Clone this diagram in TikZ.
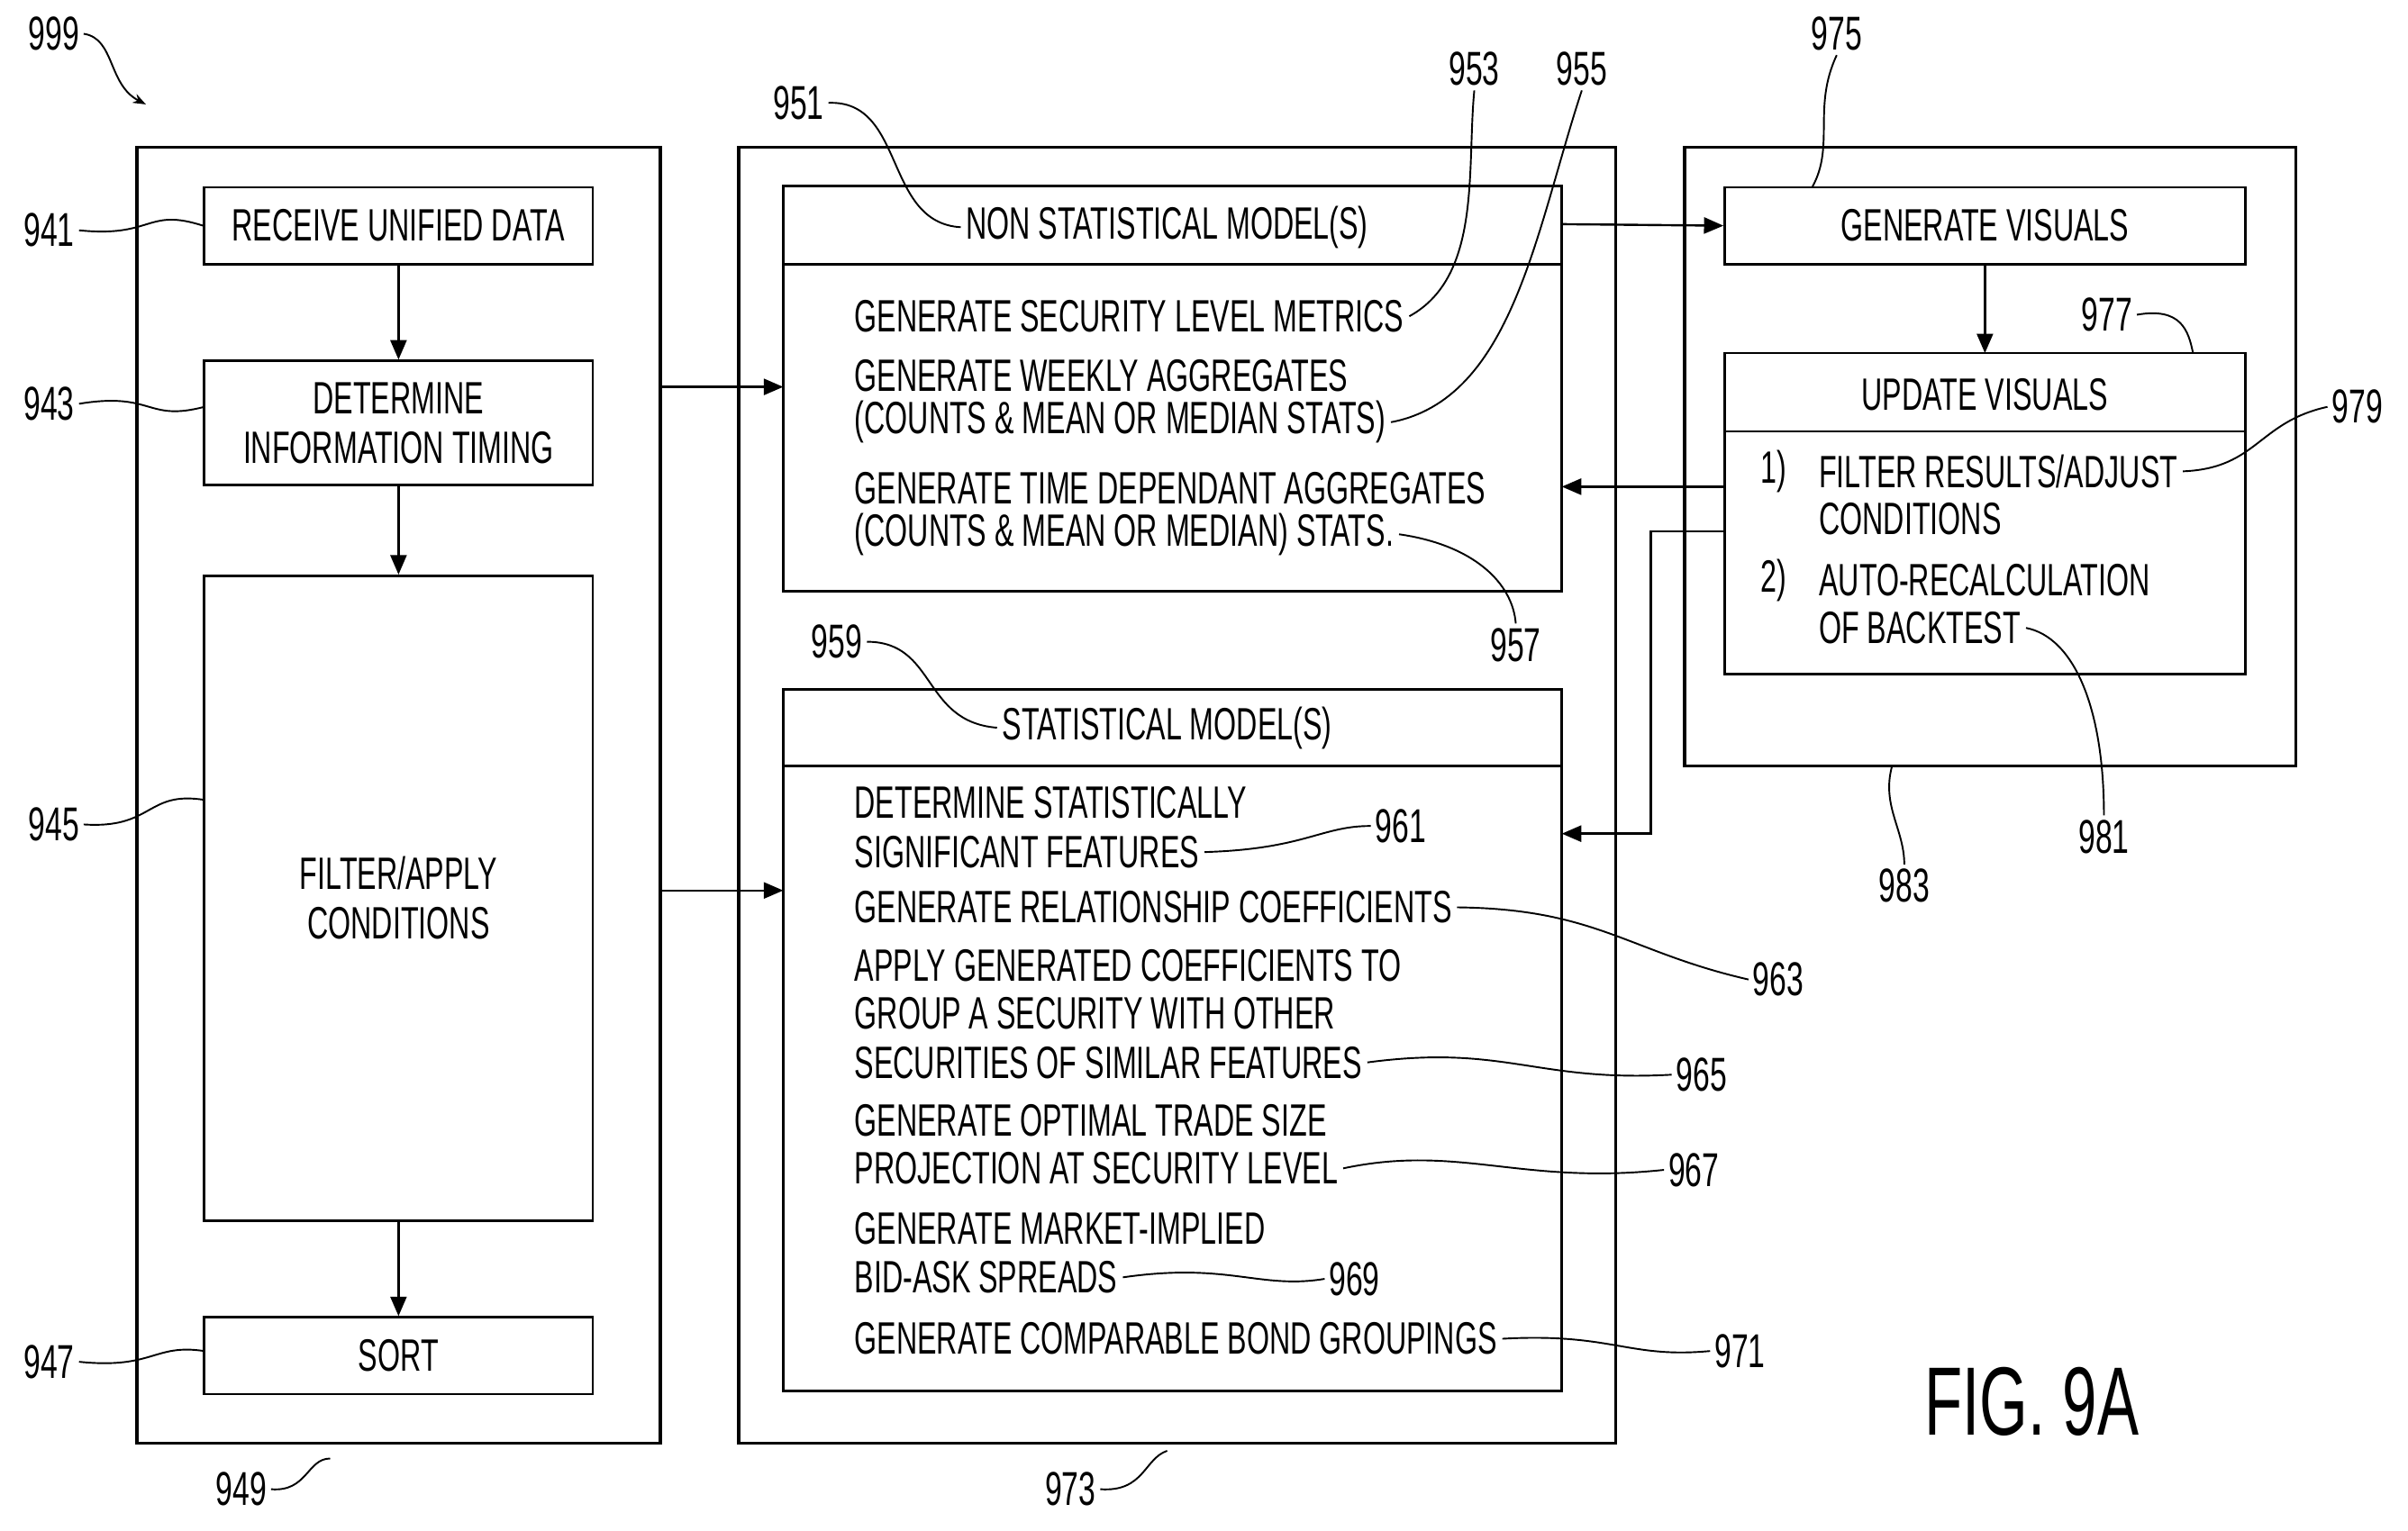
\documentclass[tikz,border=0pt]{standalone}
\usepackage{fontspec}
\setmainfont{Liberation Sans}[FakeStretch=0.64]
\usetikzlibrary{arrows.meta}
\begin{document}
\begin{tikzpicture}[x=0.5mm,y=-0.5mm,
  every node/.style={font=\fontsize{42}{52}\selectfont, inner sep=0pt},
  box/.style={draw, line width=2.2pt},
  frame/.style={draw, line width=3pt},
  arr/.style={line width=2pt,-{Triangle[length=18pt,width=15pt]}},
  lead/.style={line width=1.6pt},
  lab/.style={font=\fontsize{44}{52}\selectfont, inner sep=4pt},
  txt/.style={anchor=west, outer sep=5pt}]
\useasboundingbox (0,0) rectangle (1568,997);
% frames
\draw[frame] (89,96) rectangle (430,940);
\draw[frame] (481,96) rectangle (1052,940);
\draw[frame] (1097,96) rectangle (1495,499);
% left column
\node[box, minimum width=253*0.5mm, minimum height=50*0.5mm] (b941) at (259.5,147) {RECEIVE UNIFIED DATA};
\node[box, minimum width=253*0.5mm, minimum height=81*0.5mm, align=center] (b943) at (259.5,275.5) {DETERMINE\\[-6pt]INFORMATION TIMING};
\node[box, minimum width=253*0.5mm, minimum height=420*0.5mm, align=center] (b945) at (259.5,585) {FILTER/APPLY\\[-6pt]CONDITIONS};
\node[box, minimum width=253*0.5mm, minimum height=50*0.5mm] (b947) at (259.5,883) {SORT};
\draw[arr] (b941) -- (b943);
\draw[arr] (b943) -- (b945);
\draw[arr] (b945) -- (b947);
% middle boxes
\draw[box] (510,121) rectangle (1017,385);
\draw[box] (510,172) -- (1017,172);
\draw[box] (510,449) rectangle (1017,906);
\draw[box] (510,499) -- (1017,499);
\coordinate (m951w) at (510,252); \coordinate (m959w) at (510,580);
\coordinate (m951e) at (1017,146); \coordinate (m951r) at (1017,317); \coordinate (m959r) at (1017,543);
\node[outer sep=5pt] (h951) at (760,148) {NON STATISTICAL MODEL(S)};
\node[outer sep=5pt] (h959) at (760,474) {STATISTICAL MODEL(S)};
\node[txt] (t1) at (553,206) {GENERATE SECURITY LEVEL METRICS};
\node[txt] (t2) at (553,245) {GENERATE WEEKLY AGGREGATES};
\node[txt] (t3) at (553,275) {(COUNTS \& MEAN OR MEDIAN STATS)};
\node[txt] (t4) at (553,318) {GENERATE TIME DEPENDANT AGGREGATES};
\node[txt] (t5) at (553,348) {(COUNTS \& MEAN OR MEDIAN) STATS.};
\node[txt] (s1) at (553,523) {DETERMINE STATISTICALLY};
\node[txt] (s2) at (553,555) {SIGNIFICANT FEATURES};
\node[txt] (s3) at (553,591) {GENERATE RELATIONSHIP COEFFICIENTS};
\node[txt] (s4) at (553,629) {APPLY GENERATED COEFFICIENTS TO};
\node[txt] (s5) at (553,660) {GROUP A SECURITY WITH OTHER};
\node[txt] (s6) at (553,692) {SECURITIES OF SIMILAR FEATURES};
\node[txt] (s7) at (553,730) {GENERATE OPTIMAL TRADE SIZE};
\node[txt] (s8) at (553,761) {PROJECTION AT SECURITY LEVEL};
\node[txt] (s9) at (553,800) {GENERATE MARKET-IMPLIED};
\node[txt] (s10) at (553,832) {BID-ASK SPREADS};
\node[txt] (s11) at (553,872) {GENERATE COMPARABLE BOND GROUPINGS};
% right boxes
\node[box, minimum width=339*0.5mm, minimum height=50*0.5mm] (b975) at (1292.5,147) {GENERATE VISUALS};
\draw[box] (1123,230) rectangle (1462,439);
\draw[box] (1123,281) -- (1462,281);
\coordinate (b977n) at (1292.5,230);
\coordinate (r1) at (1123,317); \coordinate (r2) at (1123,346);
\node (h977) at (1292.5,257) {UPDATE VISUALS};
\node[txt] at (1143,307) {1)};
\node[txt] at (1143,378) {2)};
\node[txt] (u1) at (1181,307) {FILTER RESULTS/ADJUST};
\node[txt] (u2) at (1181,338) {CONDITIONS};
\node[txt] (u3) at (1181,378) {AUTO-RECALCULATION};
\node[txt] (u4) at (1181,409) {OF BACKTEST};
% arrows
\draw[arr] (430,252) -- (m951w);
\draw[arr] (430,580) -- (m959w);
\draw[arr] (m951e) -- (b975.west);
\draw[arr] (b975.south) -- (b977n);
\draw[arr] (r1) -- (m951r);
\draw[arr] (r2) -- (1075,346) -- (1075,543) -- (m959r);
% labels
\node[lab] (l999) at (35,22) {999};
\draw[lead,-{Stealth[length=12pt]}] (l999.east) .. controls (75,25) and (70,55) .. (95,68);
\node[lab] (l941) at (32,150) {941};
\draw[lead] (l941.east) .. controls (100,155) and (95,135) .. (b941.west);
\node[lab] (l943) at (32,263) {943};
\draw[lead] (l943.east) .. controls (100,255) and (95,275) .. (133,265);
\node[lab] (l945) at (35,537) {945};
\draw[lead] (l945.east) .. controls (100,540) and (95,515) .. (133,521);
\node[lab] (l947) at (32,887) {947};
\draw[lead] (l947.east) .. controls (100,892) and (100,875) .. (133,880);
\node[lab] (l949) at (157,970) {949};
\draw[lead] (l949.east) .. controls (200,972) and (200,950) .. (215,950);
\node[lab] (l973) at (697,970) {973};
\draw[lead] (l973.east) .. controls (745,972) and (745,950) .. (760,945);
\node[lab] (l951) at (520,67) {951};
\draw[lead] (l951.east) .. controls (590,65) and (575,145) .. (h951.west);
\node[lab] (l953) at (960,45) {953};
\draw[lead] (l953.south) .. controls (955,110) and (965,180) .. (t1.east);
\node[lab] (l955) at (1030,45) {955};
\draw[lead] (l955.south) .. controls (1000,150) and (985,260) .. (t3.east);
\node[lab] (l957) at (987,420) {957};
\draw[lead] (l957.north) .. controls (985,380) and (960,355) .. (t5.east);
\node[lab] (l959) at (545,418) {959};
\draw[lead] (l959.east) .. controls (610,418) and (600,470) .. (h959.west);
\node[lab] (l961) at (912,538) {961};
\draw[lead] (l961.west) .. controls (860,538) and (850,553) .. (s2.east);
\node[lab] (l963) at (1158,638) {963};
\draw[lead] (l963.west) .. controls (1060,620) and (1040,592) .. (s3.east);
\node[lab] (l965) at (1108,700) {965};
\draw[lead] (l965.west) .. controls (1000,705) and (980,680) .. (s6.east);
\node[lab] (l967) at (1103,762) {967};
\draw[lead] (l967.west) .. controls (990,772) and (950,745) .. (s8.east);
\node[lab] (l969) at (882,833) {969};
\draw[lead] (l969.west) .. controls (820,840) and (800,822) .. (s10.east);
\node[lab] (l971) at (1133,880) {971};
\draw[lead] (l971.west) .. controls (1060,885) and (1050,868) .. (s11.east);
\node[lab] (l975) at (1196,22) {975};
\draw[lead] (l975.south) .. controls (1180,70) and (1195,95) .. (1180,122);
\node[lab] (l977) at (1372,205) {977};
\draw[lead] (l977.east) .. controls (1420,200) and (1425,215) .. (1428,230);
\node[lab] (l979) at (1535,265) {979};
\draw[lead] (l979.west) .. controls (1470,275) and (1470,305) .. (u1.east);
\node[lab] (l981) at (1370,545) {981};
\draw[lead] (l981.north) .. controls (1370,460) and (1350,415) .. (u4.east);
\node[lab] (l983) at (1240,577) {983};
\draw[lead] (l983.north) .. controls (1240,540) and (1225,525) .. (1232,499);
\node[font=\fontsize{90}{100}\selectfont] (fig) at (1323,913) {FIG. 9A};
\end{tikzpicture}
\end{document}
